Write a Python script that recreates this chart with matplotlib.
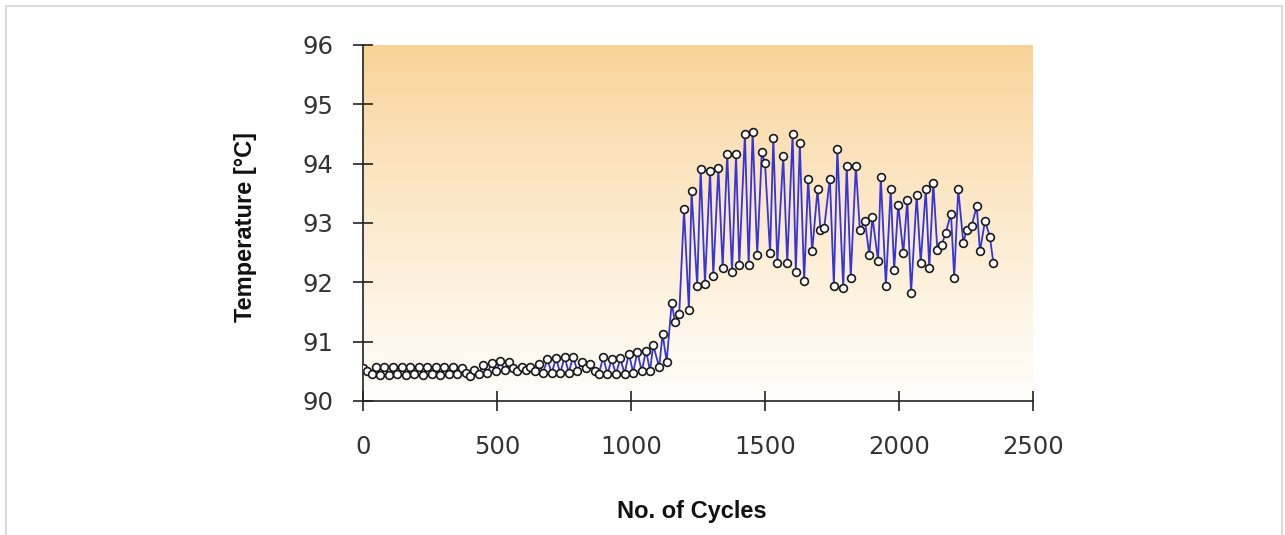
# -*- coding: utf-8 -*-
# Temperature vs. number of cycles

import numpy as np
import matplotlib
matplotlib.use('Agg')
import matplotlib.pyplot as plt
from matplotlib.patches import Rectangle

# cycles (x) and temperature (y)
cycles = [0, 16, 32, 48, 64, 80, 96, 112, 128, 144, 160, 176, 192, 208, 224,
          240, 256, 272, 288, 304, 320, 336, 352, 368, 384, 400, 416, 432, 448,
          464, 480, 496, 512, 528, 544, 560, 576, 592, 608, 624, 640, 656, 672,
          688, 704, 720, 736, 752, 768, 784, 800, 816, 832, 848, 864, 880, 896,
          912, 928, 944, 960, 976, 992, 1008, 1024, 1040, 1056,
          1071, 1083, 1105, 1118, 1133, 1152, 1164, 1180, 1198, 1216, 1226,
          1247, 1260, 1276, 1295, 1307, 1326, 1342, 1359, 1377, 1392, 1404,
          1425, 1439, 1454, 1471, 1488, 1500, 1519, 1531, 1546, 1568, 1583,
          1603, 1615, 1630, 1646, 1661, 1676, 1696, 1707, 1721, 1742, 1757,
          1770, 1792, 1805, 1820, 1839, 1854, 1873, 1889, 1901, 1922, 1932,
          1951, 1969, 1982, 1997, 2016, 2031, 2045, 2066, 2081, 2100, 2113,
          2128, 2143, 2159, 2174, 2194, 2206, 2221, 2240, 2253, 2271, 2290,
          2302, 2321, 2339, 2352]
temps = [90.55, 90.50, 90.45, 90.57, 90.44, 90.58, 90.44, 90.58, 90.45, 90.58,
         90.44, 90.58, 90.45, 90.57, 90.44, 90.58, 90.45, 90.58, 90.44, 90.57,
         90.45, 90.58, 90.46, 90.56, 90.48, 90.42, 90.52, 90.46, 90.60, 90.47,
         90.64, 90.50, 90.67, 90.52, 90.65, 90.55, 90.50, 90.57, 90.52, 90.58,
         90.50, 90.62, 90.48, 90.70, 90.47, 90.72, 90.47, 90.74, 90.48, 90.75,
         90.50, 90.66, 90.55, 90.62, 90.50, 90.45, 90.74, 90.46, 90.70, 90.45,
         90.72, 90.46, 90.80, 90.48, 90.83, 90.50, 90.85,
         90.51, 90.94, 90.57, 91.13, 90.66, 91.66, 91.33, 91.47, 93.23, 91.53,
         93.54, 91.94, 93.91, 91.98, 93.88, 92.11, 93.93, 92.24, 94.16, 92.17,
         94.16, 92.30, 94.50, 92.30, 94.54, 92.46, 94.19, 94.01, 92.49, 94.43,
         92.33, 94.13, 92.33, 94.50, 92.18, 94.34, 92.02, 93.75, 92.52, 93.57,
         92.89, 92.92, 93.75, 91.94, 94.25, 91.90, 93.96, 92.08, 93.96, 92.88,
         93.04, 92.46, 93.10, 92.36, 93.78, 91.94, 93.57, 92.21, 93.31, 92.49,
         93.39, 91.82, 93.47, 92.33, 93.57, 92.24, 93.67, 92.55, 92.63, 92.83,
         93.16, 92.08, 93.57, 92.67, 92.89, 92.95, 93.29, 92.52, 93.04, 92.77,
         92.33]

x_ticks = [0, 500, 1000, 1500, 2000, 2500]
y_ticks = [90, 91, 92, 93, 94, 95, 96]

fig = plt.figure(figsize=(12.85, 5.35), dpi=100)
ax = fig.add_axes([363 / 1285, 134 / 535, 670 / 1285, 356 / 535])

# grey frame around the whole picture
fig.patches.append(Rectangle((6 / 1285, -0.05), 1276 / 1285, 1.05 - 6 / 535,
                             transform=fig.transFigure, fill=False,
                             edgecolor='#dcdcdc', linewidth=1.5))

# orange -> white background gradient of the plot area
top = np.array([249, 210, 150]) / 255
bot = np.array([255, 254, 250]) / 255
t = np.linspace(0, 1, 256)[:, None] ** 0.85
grad = top * (1 - t) + bot * t
ax.imshow(grad[:, None, :], extent=[0, 2500, 90, 96], aspect='auto',
          origin='upper', zorder=0)

ax.plot(cycles, temps, color='#3535d8', linewidth=1.3, zorder=2)
ax.plot(cycles, temps, linestyle='none', marker='o', markersize=5.6,
        markerfacecolor='white', markeredgecolor='#1a1a1a',
        markeredgewidth=1.2, zorder=3)

ax.set_xlim(0, 2500)
ax.set_ylim(90, 96)
ax.set_xticks(x_ticks)
ax.set_yticks(y_ticks)

for s in ['top', 'right']:
    ax.spines[s].set_visible(False)
for s in ['left', 'bottom']:
    ax.spines[s].set_color('#222222')
    ax.spines[s].set_linewidth(1.2)

ax.tick_params(axis='both', direction='inout', length=15, width=1.2,
               color='#222222', labelsize=17.5, labelcolor='#333333')
ax.tick_params(axis='y', pad=14)
ax.tick_params(axis='x', pad=17)

ax.set_xlabel('No. of Cycles', fontsize=17, fontweight='bold',
              family=['Liberation Sans', 'DejaVu Sans'], color='#111111')
ax.set_ylabel('Temperature [°C]', fontsize=17, fontweight='bold',
              family=['Liberation Sans', 'DejaVu Sans'], color='#111111')
ax.xaxis.set_label_coords(0.491, -0.31)
ax.xaxis.label.set_va('center')
ax.yaxis.set_label_coords(-0.176, 0.49)
ax.yaxis.label.set_va('center')

plt.savefig('out.png', dpi=100)
